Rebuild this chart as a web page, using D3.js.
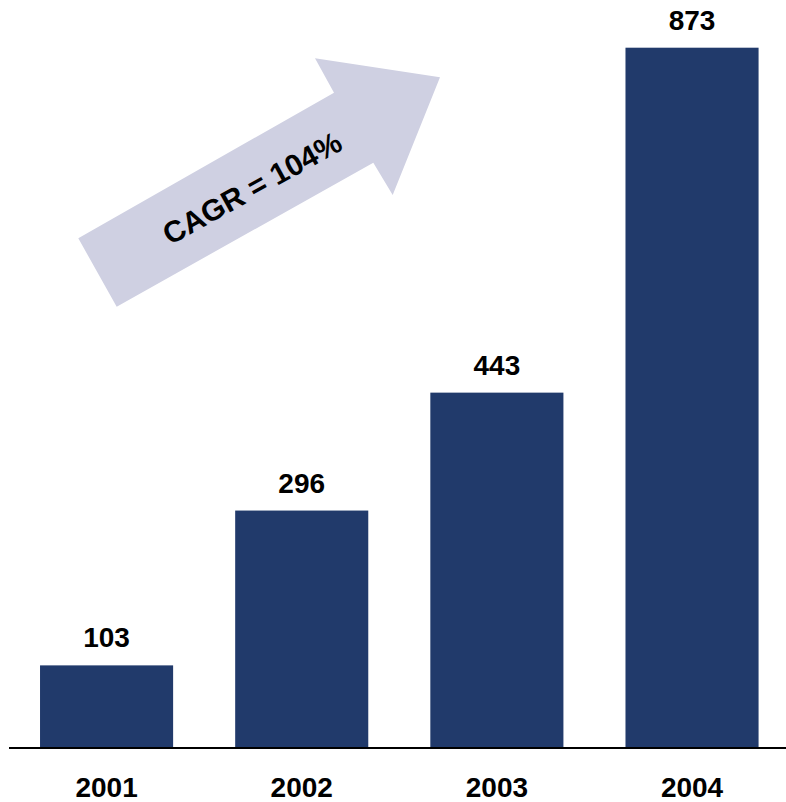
<!DOCTYPE html>
<html>
<head>
<meta charset="utf-8">
<script src="https://cdn.jsdelivr.net/npm/d3@7"></script>
<style>
  html, body { margin: 0; padding: 0; background: #fff; }
  svg { display: block; }
  text { font-family: Arial, "Liberation Sans", sans-serif; font-weight: bold; fill: #000; }
</style>
</head>
<body>
<svg id="chart" width="786" height="802"></svg>
<script>
// Yearly values
const years = ["2001", "2002", "2003", "2004"];
const values = [103, 296, 443, 873];
const growthLabel = "CAGR = 104%";

const W = 786, H = 802;
const svg = d3.select("#chart");

const x = d3.scaleBand()
  .domain(years)
  .range([9, 789.6])
  .paddingInner(0.318)
  .paddingOuter(0.159);

const y = d3.scaleLinear()
  .domain([0, 873])
  .range([748, 47.7]);

// Growth arrow behind the bars (shape in chart pixel space)
const arrowPts = [
  [78.3, 238.3], [334, 92.7], [315, 58.3], [440, 77.3],
  [392.7, 195], [373.3, 162.7], [116.7, 306.7]
];
svg.append("path")
  .attr("d", d3.line()(arrowPts) + "Z")
  .attr("fill", "#cfd0e2");

svg.append("text")
  .attr("transform", "translate(252,188) rotate(-29)")
  .attr("text-anchor", "middle")
  .attr("dominant-baseline", "central")
  .attr("font-size", 30)
  .text(growthLabel);

// Bars
svg.selectAll("rect.bar")
  .data(values)
  .join("rect")
  .attr("class", "bar")
  .attr("x", (d, i) => x(years[i]))
  .attr("width", x.bandwidth())
  .attr("y", d => y(d))
  .attr("height", d => y(0) - y(d))
  .attr("fill", "#213a6b");

// Value labels
svg.selectAll("text.val")
  .data(values)
  .join("text")
  .attr("class", "val")
  .attr("x", (d, i) => x(years[i]) + x.bandwidth() / 2)
  .attr("y", d => y(d) - 18)
  .attr("text-anchor", "middle")
  .attr("font-size", 28)
  .text(d => d);

// Baseline axis
const axis = d3.axisBottom(x).tickSize(0).tickPadding(0);
const gAxis = svg.append("g").attr("transform", `translate(0,${y(0)})`).call(axis);
gAxis.select(".domain").remove();
gAxis.append("line")
  .attr("x1", 9).attr("x2", W)
  .attr("y1", 0).attr("y2", 0)
  .attr("stroke", "#000").attr("stroke-width", 2);
gAxis.selectAll(".tick text")
  .attr("y", 49)
  .attr("dy", 0)
  .attr("font-size", 28)
  .attr("font-family", "Arial, 'Liberation Sans', sans-serif")
  .attr("font-weight", "bold")
  .attr("fill", "#000");
</script>
</body>
</html>
